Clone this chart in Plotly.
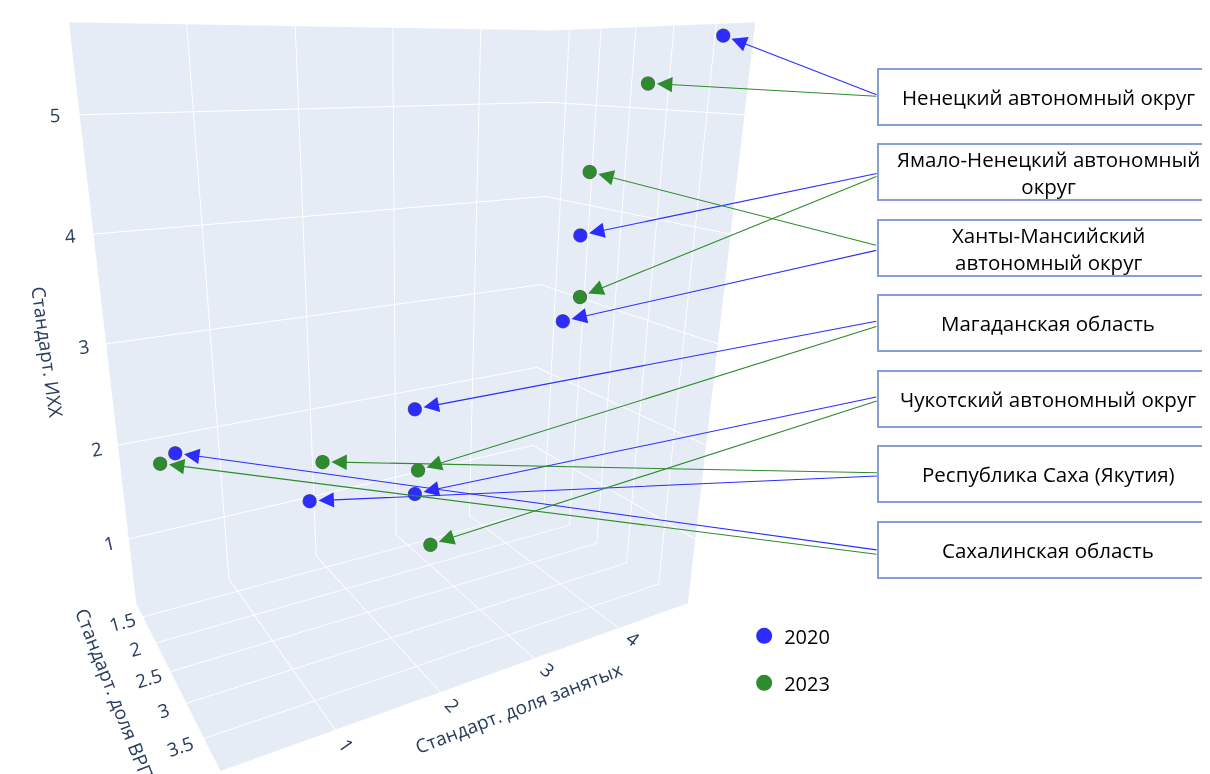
import plotly.graph_objects as go

# ---------------- data ----------------
regions = [
    "Ненецкий автономный округ",
    "Ямало-Ненецкий автономный округ",
    "Ханты-Мансийский автономный округ",
    "Магаданская область",
    "Чукотский автономный округ",
    "Республика Саха (Якутия)",
    "Сахалинская область",
]
box_labels = [
    "Ненецкий автономный округ",
    "Ямало-Ненецкий автономный<br>округ",
    "Ханты-Мансийский<br>автономный округ",
    "Магаданская область",
    "Чукотский автономный округ",
    "Республика Саха (Якутия)",
    "Сахалинская область",
]
years = ["2020", "2023"]

x_2020 = [4.64, 4.47, 4.47, 2.70, 2.59, 1.31, 0.30]
y_2020 = [3.84, 2.40, 2.20, 2.20, 2.40, 2.80, 2.30]
z_2020 = [5.62, 3.79, 2.86, 2.20, 1.39, 1.79, 2.27]

x_2023 = [4.19, 4.35, 4.62, 2.85, 2.83, 1.53, 0.14]
y_2023 = [3.50, 2.60, 2.30, 2.00, 2.30, 2.60, 2.41]
z_2023 = [5.25, 3.22, 4.39, 1.43, 0.71, 2.04, 2.25]

x_title = "Стандарт. доля занятых"
y_title = "Стандарт. доля ВРП"
z_title = "Стандарт. ИХХ"

# ---------------- style / layout ----------------
W, H = 1210, 774
OFF = 8  # page body margin of the written html
BLUE = "rgb(44,44,255)"
GREEN = "rgb(46,139,46)"
BOX_LINE = "#86A0D4"

# callout boxes (pixel rows on the page) and arrow tail offsets (pixels, relative to point)
box_top = [69, 144, 220, 295, 371, 446, 522]
box_h = 56
box_left = 878
text_cx = 1048
dx_2020 = [155, 298, 315, 463, 463, 569, 703]
dy_2020 = [60, -62, -71, -88, -97, -25, 97]
dx_2023 = [230, 298, 288, 460, 448, 556, 718]
dy_2023 = [13, -121, 74, -144, -144, 11, 91]

fig = go.Figure()
for name, xs, ys, zs, col in [("2020", x_2020, y_2020, z_2020, BLUE),
                              ("2023", x_2023, y_2023, z_2023, GREEN)]:
    fig.add_trace(go.Scatter3d(
        x=xs, y=ys, z=zs, mode="markers", name=name, text=regions,
        legendgroup=name, showlegend=False,
        marker=dict(size=8, color=col, line=dict(color="rgb(90,90,90)", width=1)),
    ))
    # legend entry
    fig.add_trace(go.Scatter3d(
        x=[None], y=[None], z=[None], mode="markers", name=name,
        legendgroup=name, showlegend=True, hoverinfo="skip",
        marker=dict(size=16, color=col, line=dict(width=0)),
    ))

scene_ann = []
for xs, ys, zs, dxs, dys, col in [(x_2020, y_2020, z_2020, dx_2020, dy_2020, BLUE),
                                  (x_2023, y_2023, z_2023, dx_2023, dy_2023, GREEN)]:
    for i in range(len(xs)):
        scene_ann.append(dict(
            x=xs[i], y=ys[i], z=zs[i], ax=dxs[i], ay=dys[i], text="",
            showarrow=True, arrowhead=2, arrowsize=2.8, arrowwidth=1.1,
            arrowcolor=col, standoff=9,
        ))

shapes = []
annotations = []
for i, lab in enumerate(box_labels):
    top = box_top[i] - OFF
    y0 = 1 - (top + box_h) / H
    y1 = 1 - top / H
    shapes.append(dict(type="rect", xref="paper", yref="paper",
                       x0=(box_left - OFF) / W, x1=1.05, y0=y0, y1=y1,
                       line=dict(color=BOX_LINE, width=2), fillcolor="white"))
    annotations.append(dict(xref="paper", yref="paper", x=(text_cx - OFF) / W, y=(y0 + y1) / 2,
                            text=lab, showarrow=False, xanchor="center", yanchor="middle",
                            font=dict(size=20.5, color="black", family="Open Sans")))

axis_common = dict(tickfont=dict(size=15), showbackground=True)
fig.update_layout(
    width=W, height=H,
    margin=dict(l=0, r=0, t=0, b=0),
    paper_bgcolor="white",
    showlegend=True,
    legend=dict(x=0.6084, y=0.214, xanchor="left", yanchor="top",
                font=dict(size=20, color="black", family="Open Sans"),
                tracegroupgap=18, bgcolor="rgba(0,0,0,0)"),
    scene=dict(
        domain=dict(x=[0, 0.6678], y=[0, 1]),
        xaxis=dict(title=dict(text=x_title, font=dict(size=19)), range=[0.03, 4.9], **axis_common),
        yaxis=dict(title=dict(text=y_title, font=dict(size=19)), range=[3.92, 1.22], **axis_common),
        zaxis=dict(title=dict(text=z_title, font=dict(size=19)), range=[0.27, 5.72], **axis_common),
        aspectmode="manual",
        aspectratio=dict(x=0.894, y=0.495, z=1.0),
        camera=dict(eye=dict(x=-0.725, y=-1.31, z=0.45), center=dict(x=0, y=0, z=-0.09),
                    up=dict(x=0, y=0, z=1)),
        annotations=scene_ann,
    ),
    shapes=shapes,
    annotations=annotations,
)

fig.write_html("out.html")
